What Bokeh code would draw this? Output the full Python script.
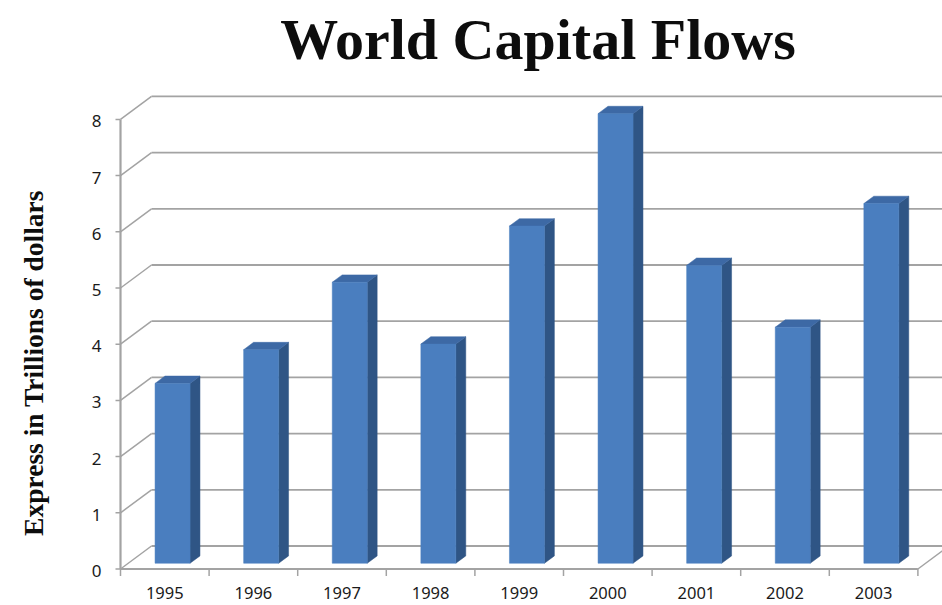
from bokeh.plotting import figure
from bokeh.models import Range1d, ColumnDataSource
from bokeh.core.properties import value
from bokeh.embed import file_html
from bokeh.resources import INLINE

# ---------------- data ----------------
years = ["1995", "1996", "1997", "1998", "1999", "2000", "2001", "2002", "2003"]
flows = [3.2, 3.8, 5.0, 3.9, 6.0, 8.0, 5.3, 4.2, 6.4]
y_ticks = [0, 1, 2, 3, 4, 5, 6, 7, 8]
title_text = "World Capital Flows"
y_label = "Express in Trillions of dollars"

# ---------------- geometry / style ----------------
W, H = 942, 605
X0_PX, Y0_PX = 120, 568.5      # screen position of the front origin
PX_X, PX_Y = 88.6, 56.2        # pixels per category / per value unit
DX, DY = 31 / PX_X, 23 / PX_Y  # full depth of the 3-D box in data units
F_D, B_D = 0.25, 0.57          # front / back depth of the columns
HALF_W = 17.5 / PX_X           # half width of a column's front face

FRONT, SIDE, TOP = "#4a7ebf", "#2f5585", "#3d69a5"
GRID = "#a3a3a3"

p = figure(width=W, height=H,
           x_range=Range1d(-X0_PX / PX_X, (W - X0_PX) / PX_X),
           y_range=Range1d(-(H - Y0_PX) / PX_Y, Y0_PX / PX_Y),
           x_axis_type=None, y_axis_type=None,
           output_backend="svg", toolbar_location=None, min_border=0)
p.grid.visible = False
p.outline_line_color = None
p.background_fill_color = "white"

n = len(years)
top_v = max(y_ticks)

# back wall gridlines and the diagonals on the side wall
p.segment(x0=[DX] * len(y_ticks), y0=[v + DY for v in y_ticks],
          x1=[n + DX] * len(y_ticks), y1=[v + DY for v in y_ticks],
          line_color=GRID, line_width=1.8)
p.segment(x0=[0] * len(y_ticks), y0=y_ticks,
          x1=[DX] * len(y_ticks), y1=[v + DY for v in y_ticks],
          line_color=GRID, line_width=1.5)
# floor right edge
p.segment(x0=[n], y0=[0], x1=[n + DX], y1=[DY], line_color=GRID, line_width=1.5)

# value axis line and ticks
p.segment(x0=[0], y0=[0], x1=[0], y1=[top_v], line_color=GRID, line_width=2.2)
p.segment(x0=[-5 / PX_X] * len(y_ticks), y0=y_ticks, x1=[0] * len(y_ticks), y1=y_ticks,
          line_color=GRID, line_width=1.5)
# category axis line and ticks
p.segment(x0=[0], y0=[0], x1=[n], y1=[0], line_color=GRID, line_width=2.2)
p.segment(x0=list(range(n + 1)), y0=[0] * (n + 1), x1=list(range(n + 1)),
          y1=[-7 / PX_Y] * (n + 1), line_color=GRID, line_width=1.5)

# ---------------- columns ----------------
lefts, rights, bottoms, tops = [], [], [], []
side_xs, side_ys, top_xs, top_ys = [], [], [], []
d = B_D - F_D
for i, v in enumerate(flows):
    c = i + 0.5 + F_D * DX
    l, r = c - HALF_W, c + HALF_W
    b, t = F_D * DY, v + F_D * DY
    lefts.append(l); rights.append(r); bottoms.append(b); tops.append(t)
    side_xs.append([r, r + d * DX, r + d * DX, r])
    side_ys.append([b, b + d * DY, t + d * DY, t])
    top_xs.append([l, r, r + d * DX, l + d * DX])
    top_ys.append([t, t, t + d * DY, t + d * DY])

src = ColumnDataSource(dict(left=lefts, right=rights, bottom=bottoms, top=tops,
                            year=years, flow=flows))
p.patches(xs=side_xs, ys=side_ys, fill_color=SIDE, line_color=SIDE, line_width=0.5)
p.patches(xs=top_xs, ys=top_ys, fill_color=TOP, line_color=TOP, line_width=0.5)
p.quad(left="left", right="right", bottom="bottom", top="top", source=src,
       fill_color=FRONT, line_color=FRONT, line_width=0.5)

# ---------------- texts ----------------
LABEL_FONT = value("Noto Sans")
p.text(x=[(101 - X0_PX) / PX_X] * len(y_ticks), y=[v - 2 / PX_Y for v in y_ticks],
       text=[str(v) for v in y_ticks], text_font=LABEL_FONT, text_font_size="17px",
       text_color="#1a1a1a", text_align="right", text_baseline="alphabetic")
p.text(x=[i + 0.5 for i in range(n)], y=[-23.5 / PX_Y] * n, text=years,
       text_font=LABEL_FONT, text_font_size="16.5px", text_color="#1a1a1a",
       text_align="center", text_baseline="alphabetic")

p.text(x=[(537.5 - X0_PX) / PX_X], y=[(Y0_PX - 39) / PX_Y], text=[title_text],
       text_font=value("Liberation Serif"), text_font_size="58px",
       text_font_style="bold", text_color="#0d0d0d",
       text_align="center", text_baseline="alphabetic")
p.text(x=[(33 - X0_PX) / PX_X], y=[(Y0_PX - 362.5) / PX_Y], text=[y_label],
       angle=1.5707963, text_font=value("Liberation Serif"), text_font_size="27.5px",
       text_font_style="bold", text_color="#0d0d0d",
       text_align="center", text_baseline="alphabetic")

open("out.html", "w").write(file_html(p, INLINE))
